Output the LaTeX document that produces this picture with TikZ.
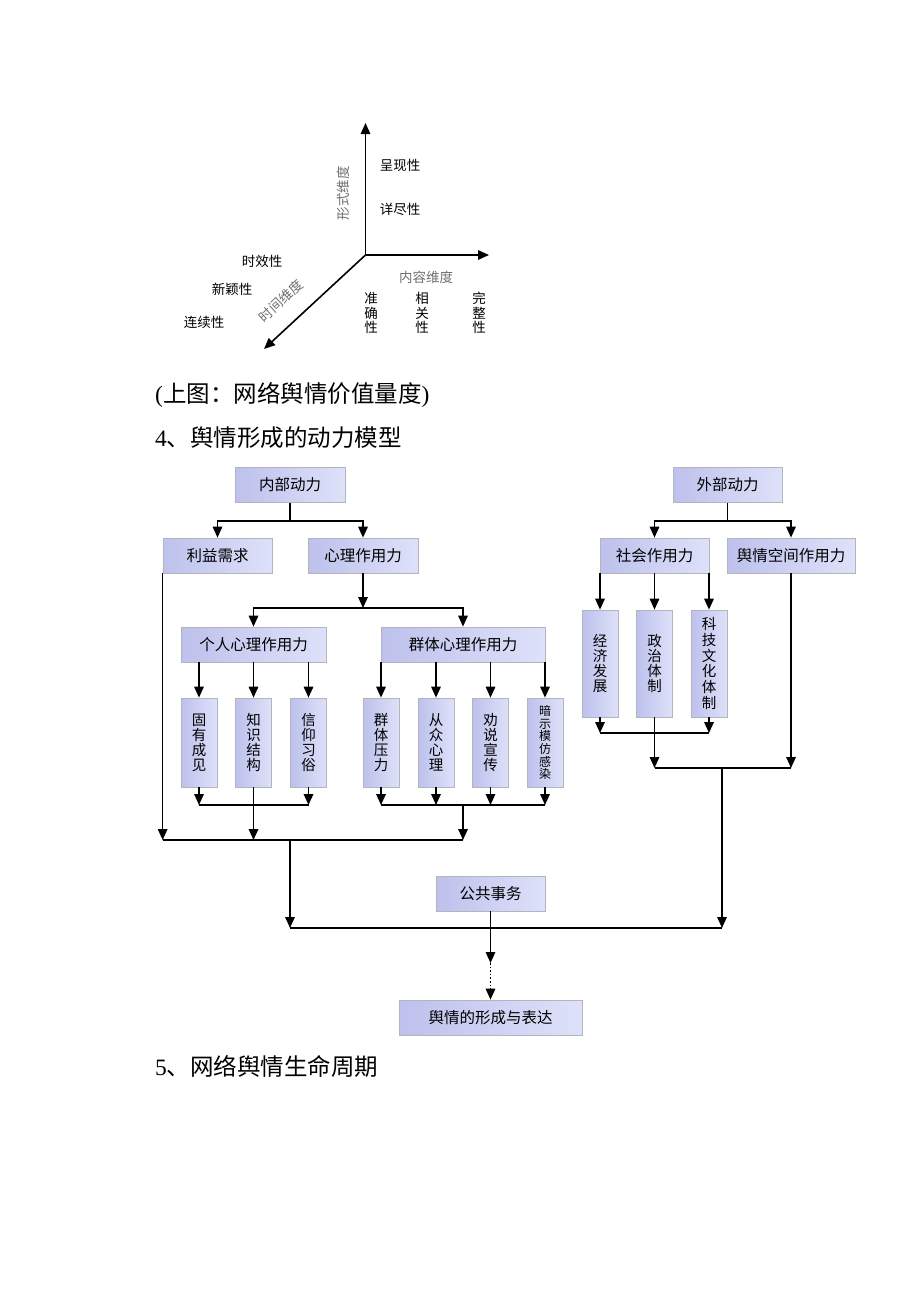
\documentclass[tikz,border=0pt]{standalone}
\usepackage{fontspec}
\setmainfont{Noto Sans CJK SC}
\newfontfamily\latinserif{Liberation Serif}
\usetikzlibrary{arrows.meta,positioning,calc}
\definecolor{BoxDeep}{HTML}{BDC1EC}
\definecolor{BoxPale}{HTML}{DEE1F9}
\definecolor{BoxStroke}{HTML}{B4B4BE}
\definecolor{AxisText}{HTML}{707070}

\begin{document}
\begin{tikzpicture}[x=1pt, y=-1pt,
  box/.style={draw=BoxStroke, line width=0.7pt, left color=BoxDeep, right color=BoxPale,
    inner sep=0pt, font=\fontsize{15.5}{17}\selectfont},
  hbox/.style={box, minimum height=35pt},
  vbox/.style={box, minimum width=36pt, align=center, font=\fontsize{14.5}{15}\selectfont},
  arr/.style={-{Triangle[length=11pt,width=9.5pt]}, line width=1.6pt},
  ln/.style={line width=1.6pt},
  lbl/.style={font=\fontsize{13.5}{14.5}\selectfont, align=center, inner sep=0pt},
  dim/.style={font=\fontsize{13.5}{14}\selectfont, text=AxisText, inner sep=0pt},
  head/.style={anchor=west, inner sep=0pt, font=\fontsize{23.5}{25}\selectfont}]
  \fill[white] (0,0) rectangle (920,1302);
  \useasboundingbox (0,0) rectangle (920,1302);

  % value dimensions
  \coordinate (O) at (365.5,255);
  \draw[arr] (O) -- (365.5,123);
  \draw[arr] (O) -- (489,255);
  \draw[arr] (O) -- (264,349);
  \node[lbl] (chx) at (400,165) {呈现性};
  \node[lbl] (xjx) at (400,209) {详尽性};
  \node[dim, rotate=90] (xs) at (343,193) {形式维度};
  \node[dim] (nr) at (426,277) {内容维度};
  \node[dim, rotate=43] (sj) at (281,301) {时间维度};
  \node[lbl] (sxx) at (262,261) {时效性};
  \node[lbl] (xyx) at (232,289) {新颖性};
  \node[lbl] (lxx) at (204,322) {连续性};
  \node[lbl] (zqx) at (371,313) {准\\确\\性};
  \node[lbl] (xgx) at (422,313) {相\\关\\性};
  \node[lbl] (wzx) at (479,313) {完\\整\\性};

  \node[head] (cap) at (155,395) {{\latinserif(}上图：网络舆情价值量度{\latinserif)}};
  \node[head] (sec4) at (155,438) {{\latinserif 4}、舆情形成的动力模型};
  \node[head] (sec5) at (155,1066) {{\latinserif 5}、网络舆情生命周期};

  % internal forces
  \node[hbox, minimum width=110pt] (inner) at (290,485) {内部动力};
  \node[hbox, minimum width=109pt] (benefit) at (217.5,555.5) {利益需求};
  \node[hbox, minimum width=110pt] (psych) at (363,555.5) {心理作用力};
  \node[hbox, minimum width=145pt] (indiv) at (253.5,644.5) {个人心理作用力};
  \node[hbox, minimum width=164pt] (group) at (463,644.5) {群体心理作用力};
  \node[vbox, minimum height=89pt] (gu) at (199,742.5) {固\\有\\成\\见};
  \node[vbox, minimum height=89pt] (zhi) at (253.5,742.5) {知\\识\\结\\构};
  \node[vbox, minimum height=89pt] (xin) at (308.5,742.5) {信\\仰\\习\\俗};
  \node[vbox, minimum height=89pt] (qun) at (381,742.5) {群\\体\\压\\力};
  \node[vbox, minimum height=89pt] (cong) at (436,742.5) {从\\众\\心\\理};
  \node[vbox, minimum height=89pt] (quan) at (490.5,742.5) {劝\\说\\宣\\传};
  \node[vbox, minimum height=89pt, font=\fontsize{12}{12.7}\selectfont] (an) at (545,742.5) {暗\\示\\模\\仿\\感\\染};

  % external forces
  \node[hbox, minimum width=109pt] (outer) at (727.5,485) {外部动力};
  \node[hbox, minimum width=109pt] (social) at (654.5,555.5) {社会作用力};
  \node[hbox, minimum width=128pt] (space) at (791,555.5) {舆情空间作用力};
  \node[vbox, minimum height=107pt] (jingji) at (600,663.5) {经\\济\\发\\展};
  \node[vbox, minimum height=107pt] (zhengzhi) at (654.5,663.5) {政\\治\\体\\制};
  \node[vbox, minimum height=107pt, font=\fontsize{14.5}{15.7}\selectfont] (keji) at (709,663.5) {科\\技\\文\\化\\体\\制};

  \node[hbox, minimum width=109pt] (public) at (490.5,893.5) {公共事务};
  \node[hbox, minimum width=183pt] (result) at (490.5,1017.5) {舆情的形成与表达};

  % left tree
  \coordinate (j1) at (290,521);
  \draw[ln] (inner) -- (j1);
  \draw[arr] (j1) -| (benefit);
  \draw[arr] (j1) -| (psych);
  \coordinate (j2) at (363,608);
  \draw[arr] (psych) -- (j2);
  \draw[arr] (j2) -| (indiv);
  \draw[arr] (j2) -| (group);
  \foreach \n in {gu,zhi,xin}
    \draw[arr] (indiv.south -| \n) -- (\n);
  \foreach \n in {qun,cong,quan,an}
    \draw[arr] (group.south -| \n) -- (\n);

  \coordinate (m1) at (253.5,805);
  \coordinate (m2) at (463,805);
  \coordinate (m0) at (290,840);
  \foreach \n in {gu,xin}
    \draw[arr] (\n) -- (\n |- m1);
  \draw[ln] (gu |- m1) -- (xin |- m1);
  \draw[arr] (zhi) -- (zhi |- m0);
  \foreach \n in {qun,cong,quan,an}
    \draw[arr] (\n) -- (\n |- m2);
  \draw[ln] (qun |- m2) -- (an |- m2);
  \draw[arr] (m2) -- (m2 |- m0);
  \draw[arr] (benefit.south west) -- (benefit.south west |- m0);
  \draw[ln] (benefit.south west |- m0) -- (m2 |- m0);
  \coordinate (b0) at (290,928);
  \draw[arr] (m0) -- (b0);

  % right tree
  \coordinate (j3) at (727.5,521);
  \draw[ln] (outer) -- (j3);
  \draw[arr] (j3) -| (social);
  \draw[arr] (j3) -| (space);
  \foreach \n in {jingji,zhengzhi,keji}
    \draw[arr] (social.south -| \n) -- (\n);
  \coordinate (r1) at (654.5,733);
  \coordinate (r2) at (722,768);
  \foreach \n in {jingji,keji}
    \draw[arr] (\n) -- (\n |- r1);
  \draw[ln] (jingji |- r1) -- (keji |- r1);
  \draw[arr] (zhengzhi) -- (zhengzhi |- r2);
  \draw[arr] (space) -- (space |- r2);
  \draw[ln] (zhengzhi |- r2) -- (space |- r2);
  \draw[arr] (r2) -- (r2 |- b0);
  \draw[ln] (b0) -- (r2 |- b0);

  % outcome
  \coordinate (p1) at (490.5,963);
  \draw[arr] (public) -- (p1);
  \draw[arr, dotted] (p1) -- (result);
\end{tikzpicture}
\end{document}
